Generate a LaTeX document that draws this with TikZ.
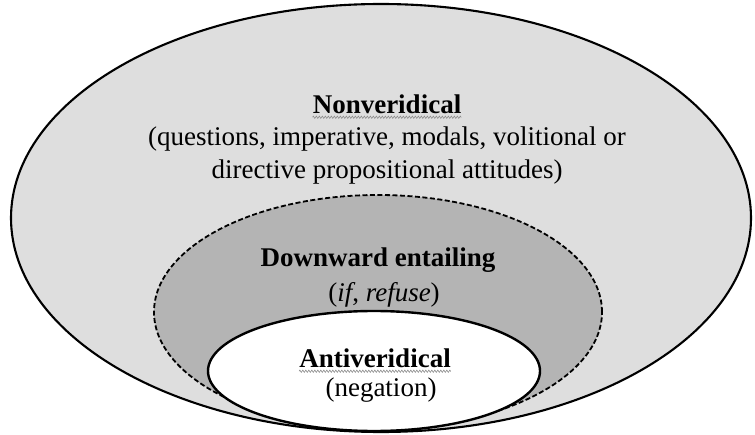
\documentclass[tikz,border=0pt]{standalone}
\usepackage{fontspec}
\setmainfont{Liberation Serif}
\usetikzlibrary{decorations.pathmorphing}
\definecolor{outerfill}{RGB}{222,222,222}
\definecolor{midfill}{RGB}{180,180,180}
\definecolor{squig}{RGB}{140,140,140}
\tikzset{
  region/.style={draw=black, line width=2.1pt},
  dashregion/.style={draw=black, line width=1.8pt, dash pattern=on 5pt off 2.5pt},
  lbl/.style={inner sep=0pt, font=\fontsize{27}{33}\selectfont, align=center},
  squiggle/.style={draw=squig, line width=0.6pt, decorate, decoration={zigzag, amplitude=1.1pt, segment length=3pt}}
}
\begin{document}
\begin{tikzpicture}[x=1pt,y=1pt]
\useasboundingbox (0,0) rectangle (755,434);
\fill[white] (0,0) rectangle (755,434);
% regions
\draw[region, fill=outerfill] (381,216) ellipse [x radius=370, y radius=214];
\draw[dashregion, fill=midfill] (378,122) ellipse [x radius=224, y radius=117];
\draw[region, fill=white, line width=2.4pt] (374,63) ellipse [x radius=166, y radius=60];
% labels
\node[lbl, font=\fontsize{27}{33}\selectfont\bfseries] (nonv) at (387,330) {Nonveridical};
\node[lbl] (nonvdesc) at (387,278) {(questions, imperative, modals, volitional or\\directive propositional attitudes)};
\node[lbl, font=\fontsize{27}{33}\selectfont\bfseries] (down) at (378,174) {Downward entailing};
\node[lbl] (downdesc) at (384,139) {(\textit{if}, \textit{refuse})};
\node[lbl, font=\fontsize{27}{33}\selectfont\bfseries] (anti) at (375,76) {Antiveridical};
\node[lbl] (antidesc) at (381,44) {(negation)};
% spell-check squiggles
\draw[squiggle] ([yshift=-4pt]nonv.base west) -- ([yshift=-4pt]nonv.base east);
\draw[squiggle] ([yshift=-4pt]anti.base west) -- ([yshift=-4pt]anti.base east);
\end{tikzpicture}
\end{document}
